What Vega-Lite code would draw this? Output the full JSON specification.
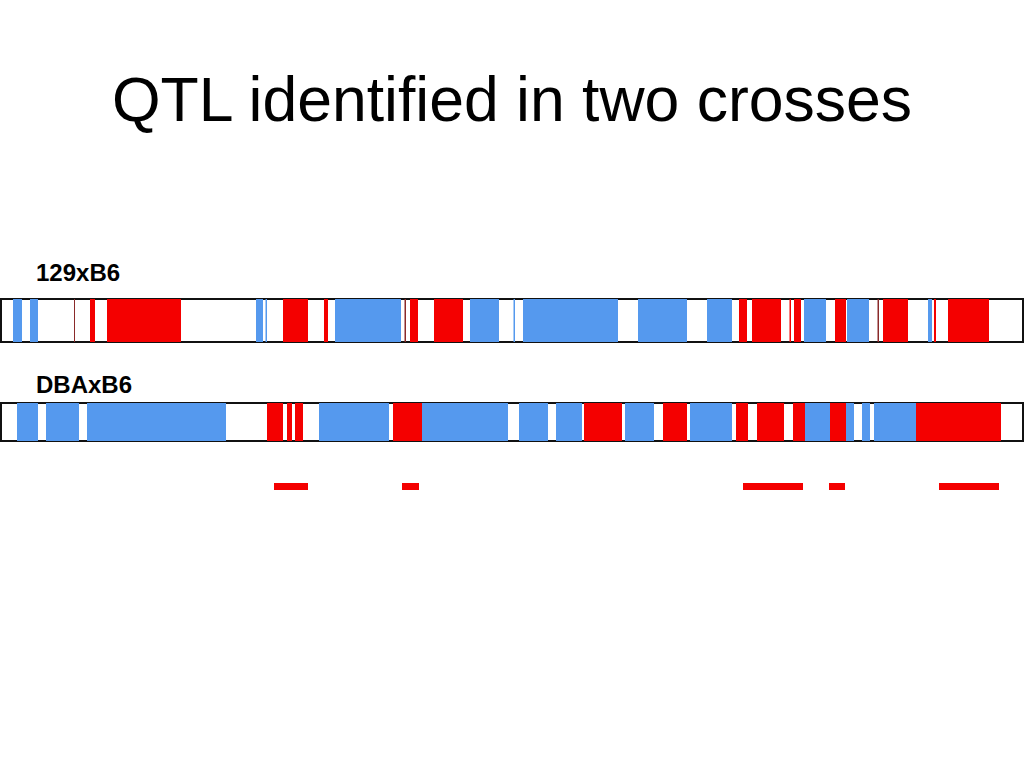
{
  "$schema": "https://vega.github.io/schema/vega-lite/v6.json",
  "padding": {"top": 70, "left": 0, "right": 0, "bottom": 0},
  "background": "white",
  "title": {"text": "QTL identified in two crosses", "font": "Liberation Sans", "fontSize": 62.5, "fontWeight": "normal", "color": "black", "anchor": "middle", "baseline": "alphabetic", "offset": 78},
  "config": {"view": {"stroke": "#111111", "strokeWidth": 2}, "concat": {"spacing": 0}},
  "datasets": {
    "segments": [
      {"cross": "129xB6", "start": 12, "end": 21, "allele": "blue"},
      {"cross": "129xB6", "start": 29, "end": 37, "allele": "blue"},
      {"cross": "129xB6", "start": 73, "end": 74, "allele": "line"},
      {"cross": "129xB6", "start": 89, "end": 94, "allele": "red"},
      {"cross": "129xB6", "start": 106, "end": 180, "allele": "red"},
      {"cross": "129xB6", "start": 255, "end": 262, "allele": "blue"},
      {"cross": "129xB6", "start": 264.5, "end": 266, "allele": "blue"},
      {"cross": "129xB6", "start": 282, "end": 307, "allele": "red"},
      {"cross": "129xB6", "start": 323, "end": 327, "allele": "red"},
      {"cross": "129xB6", "start": 334, "end": 400, "allele": "blue"},
      {"cross": "129xB6", "start": 403.5, "end": 405, "allele": "line"},
      {"cross": "129xB6", "start": 409, "end": 417, "allele": "red"},
      {"cross": "129xB6", "start": 433, "end": 462, "allele": "red"},
      {"cross": "129xB6", "start": 469, "end": 498, "allele": "blue"},
      {"cross": "129xB6", "start": 512.5, "end": 514, "allele": "blue"},
      {"cross": "129xB6", "start": 522, "end": 617, "allele": "blue"},
      {"cross": "129xB6", "start": 637, "end": 686, "allele": "blue"},
      {"cross": "129xB6", "start": 706, "end": 731, "allele": "blue"},
      {"cross": "129xB6", "start": 738, "end": 746, "allele": "red"},
      {"cross": "129xB6", "start": 751, "end": 780, "allele": "red"},
      {"cross": "129xB6", "start": 788.5, "end": 790, "allele": "red"},
      {"cross": "129xB6", "start": 793, "end": 800, "allele": "red"},
      {"cross": "129xB6", "start": 803, "end": 825, "allele": "blue"},
      {"cross": "129xB6", "start": 834, "end": 845, "allele": "red"},
      {"cross": "129xB6", "start": 846, "end": 868, "allele": "blue"},
      {"cross": "129xB6", "start": 876.5, "end": 878, "allele": "line"},
      {"cross": "129xB6", "start": 882, "end": 907, "allele": "red"},
      {"cross": "129xB6", "start": 927, "end": 931, "allele": "blue"},
      {"cross": "129xB6", "start": 933, "end": 935, "allele": "red"},
      {"cross": "129xB6", "start": 947, "end": 988, "allele": "red"},
      {"cross": "DBAxB6", "start": 16, "end": 37, "allele": "blue"},
      {"cross": "DBAxB6", "start": 45, "end": 78, "allele": "blue"},
      {"cross": "DBAxB6", "start": 86, "end": 225, "allele": "blue"},
      {"cross": "DBAxB6", "start": 266, "end": 282, "allele": "red"},
      {"cross": "DBAxB6", "start": 286, "end": 291, "allele": "red"},
      {"cross": "DBAxB6", "start": 294, "end": 302, "allele": "red"},
      {"cross": "DBAxB6", "start": 318, "end": 388, "allele": "blue"},
      {"cross": "DBAxB6", "start": 392, "end": 421, "allele": "red"},
      {"cross": "DBAxB6", "start": 421, "end": 507, "allele": "blue"},
      {"cross": "DBAxB6", "start": 518, "end": 547, "allele": "blue"},
      {"cross": "DBAxB6", "start": 555, "end": 581, "allele": "blue"},
      {"cross": "DBAxB6", "start": 583, "end": 621, "allele": "red"},
      {"cross": "DBAxB6", "start": 624, "end": 653, "allele": "blue"},
      {"cross": "DBAxB6", "start": 662, "end": 686, "allele": "red"},
      {"cross": "DBAxB6", "start": 689, "end": 731, "allele": "blue"},
      {"cross": "DBAxB6", "start": 735, "end": 747, "allele": "red"},
      {"cross": "DBAxB6", "start": 756, "end": 783, "allele": "red"},
      {"cross": "DBAxB6", "start": 792, "end": 804, "allele": "red"},
      {"cross": "DBAxB6", "start": 804, "end": 829, "allele": "blue"},
      {"cross": "DBAxB6", "start": 829, "end": 845, "allele": "red"},
      {"cross": "DBAxB6", "start": 845, "end": 853, "allele": "blue"},
      {"cross": "DBAxB6", "start": 861, "end": 869, "allele": "blue"},
      {"cross": "DBAxB6", "start": 873, "end": 915, "allele": "blue"},
      {"cross": "DBAxB6", "start": 915, "end": 1000, "allele": "red"}
    ],
    "qtl": [
      {"start": 273, "end": 307},
      {"start": 401, "end": 418},
      {"start": 742, "end": 802},
      {"start": 828, "end": 844},
      {"start": 938, "end": 998}
    ]
  },
  "vconcat": [
    {
      "spacing": 30,
      "vconcat": [
        {
          "title": {"text": "129xB6", "font": "Liberation Sans", "fontSize": 24, "fontWeight": "bold", "color": "black", "anchor": "start", "baseline": "alphabetic", "offset": -6, "dx": 35},
          "width": 1022,
          "height": 43,
          "data": {"name": "segments"},
          "transform": [{"filter": "datum.cross === '129xB6'"}],
          "mark": {"type": "rect"},
          "encoding": {
            "x": {"field": "start", "type": "quantitative", "scale": {"domain": [0, 1022], "nice": false, "zero": false}, "axis": null},
            "x2": {"field": "end"},
            "color": {"field": "allele", "type": "nominal", "scale": {"domain": ["blue", "red", "line"], "range": ["#5599ee", "#f40000", "#8a2a2a"]}, "legend": null}
          }
        },
        {
          "title": {"text": "DBAxB6", "font": "Liberation Sans", "fontSize": 24, "fontWeight": "bold", "color": "black", "anchor": "start", "baseline": "alphabetic", "offset": -14, "dx": 35},
          "width": 1022,
          "height": 38,
          "data": {"name": "segments"},
          "transform": [{"filter": "datum.cross === 'DBAxB6'"}],
          "mark": {"type": "rect"},
          "encoding": {
            "x": {"field": "start", "type": "quantitative", "scale": {"domain": [0, 1022], "nice": false, "zero": false}, "axis": null},
            "x2": {"field": "end"},
            "color": {"field": "allele", "type": "nominal", "scale": {"domain": ["blue", "red", "line"], "range": ["#5599ee", "#f40000", "#8a2a2a"]}, "legend": null}
          }
        }
      ]
    },
    {
      "width": 1022,
      "height": 7,
      "view": {"stroke": null},
      "data": {"name": "qtl"},
      "mark": {"type": "rect", "color": "#f40000"},
      "encoding": {
        "x": {"field": "start", "type": "quantitative", "scale": {"domain": [0, 1022], "nice": false, "zero": false}, "axis": null},
        "x2": {"field": "end"}
      }
    }
  ],
  "spacing": 41
}
